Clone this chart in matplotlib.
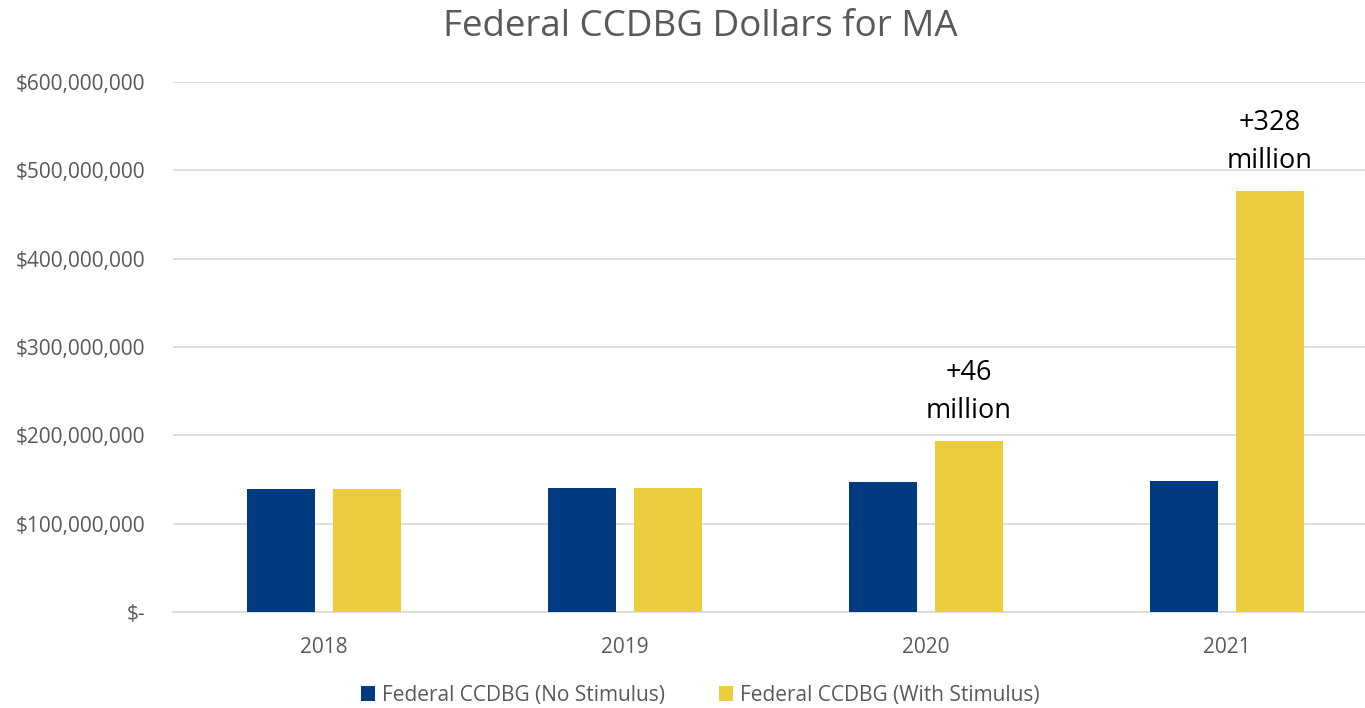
import matplotlib.pyplot as plt
import numpy as np
from matplotlib.ticker import FuncFormatter

plt.rcParams["font.family"] = ["Open Sans", "DejaVu Sans"]

years = ["2018", "2019", "2020", "2021"]
no_stimulus = [139.6e6, 140.0e6, 147.6e6, 148.4e6]
with_stimulus = [139.6e6, 140.0e6, 193.2e6, 476.4e6]
bump_labels = ["", "", "+46\nmillion", "+328\nmillion"]

BLUE = "#003A80"
YELLOW = "#EBCD3E"
GREY = "#595959"


def money(value, _pos):
    if value == 0:
        return "$-"
    return f"${value:,.0f}"


fig = plt.figure(figsize=(13.65, 7.08), dpi=100)
ax = fig.add_axes([173 / 1365, 1 - 612 / 708, (1365 - 173) / 1365, (612 - 82) / 708])

x = np.arange(len(years))
width = 0.224
offset = 0.143
ax.bar(x - offset, no_stimulus, width, color=BLUE, label="Federal CCDBG (No Stimulus)", zorder=3)
ax.bar(x + offset, with_stimulus, width, color=YELLOW, label="Federal CCDBG (With Stimulus)", zorder=3)

for xi, value, text in zip(x, with_stimulus, bump_labels):
    if text:
        ax.annotate(text, (xi + offset, value), xytext=(0, 12), textcoords="offset points",
                    ha="center", va="bottom", fontsize=19.5, color="black", linespacing=1.45)

ax.set_xlim(-0.502, 3.459)
ax.set_ylim(0, 600e6)
ax.set_yticks(np.arange(0, 600e6 + 1, 100e6))
ax.yaxis.set_major_formatter(FuncFormatter(money))
ax.set_xticks(x)
ax.set_xticklabels(years)
ax.tick_params(axis="y", length=0, pad=20, labelsize=15, labelcolor=GREY)
ax.tick_params(axis="x", length=0, pad=18, labelsize=15, labelcolor=GREY)
ax.grid(axis="y", color="#D9D9D9", linewidth=1.2, zorder=0)
for side in ["top", "right", "left"]:
    ax.spines[side].set_visible(False)
ax.spines["bottom"].set_color("#D9D9D9")
ax.spines["bottom"].set_linewidth(1.2)

fig.text(700 / 1365, 1 - 27 / 708, "Federal CCDBG Dollars for MA", ha="center", va="center",
         fontsize=26.5, color=GREY)

fig.legend(loc="center", bbox_to_anchor=(700 / 1365, 1 - 695 / 708), ncol=2, frameon=False,
           fontsize=15, labelcolor=GREY, handlelength=0.7, handleheight=0.7,
           handletextpad=0.3, columnspacing=2.6)

fig.savefig("out.png", dpi=100)
